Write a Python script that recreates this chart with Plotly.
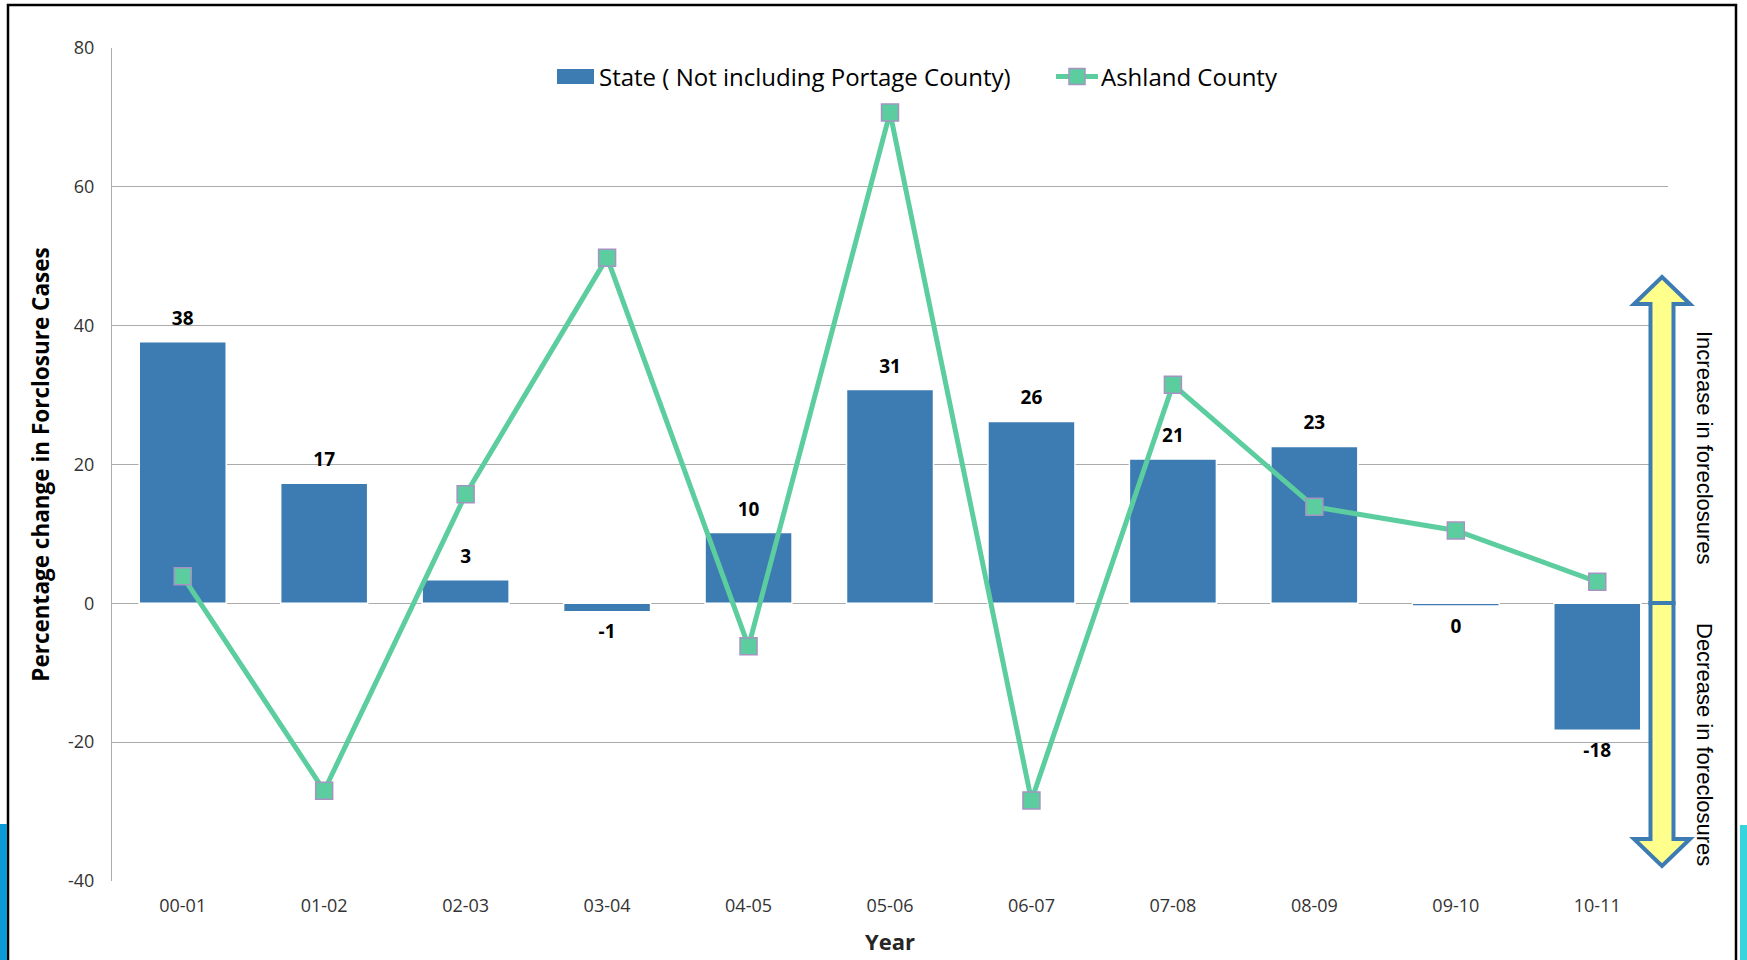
import plotly.graph_objects as go

years = ["00-01", "01-02", "02-03", "03-04", "04-05", "05-06", "06-07", "07-08", "08-09", "09-10", "10-11"]
state_vals = [37.7, 17.3, 3.4, -1.2, 10.2, 30.8, 26.2, 20.8, 22.6, -0.4, -18.3]
state_labels = ["38", "17", "3", "-1", "10", "31", "26", "21", "23", "0", "-18"]
ashland_vals = [3.9, -27.0, 15.7, 49.8, -6.2, 70.7, -28.4, 31.5, 13.9, 10.5, 3.1]
y_ticks = [-40, -20, 0, 20, 40, 60, 80]
series_names = ["State ( Not including Portage County)", "Ashland County"]

W, H = 1747, 960
L, R, T, B = 112, 1668, 48, 881

BAR_COLOR = "#3D7BB3"
LINE_COLOR = "#5CCD9E"
MARKER_EDGE = "#A593C4"


def px(x):
    return (x - L) / (R - L)


def py(y):
    return (B - y) / (B - T)


FONT = "'Open Sans', sans-serif"

fig = go.Figure()
fig.add_trace(go.Bar(
    x=years, y=state_vals, name=series_names[0],
    marker=dict(color=BAR_COLOR, line=dict(color="white", width=1.5)),
    width=0.615,
    showlegend=False, hoverinfo="skip",
))
# data labels for the bars
fig.add_trace(go.Scatter(
    x=years, y=state_vals, mode="markers+text",
    text=state_labels,
    textposition=["top center" if v >= 0 else "bottom center" for v in state_vals],
    marker=dict(size=18, color="rgba(0,0,0,0)"),
    textfont=dict(family=FONT, size=19, color="black", weight="bold"),
    cliponaxis=False, showlegend=False, hoverinfo="skip",
))
fig.add_trace(go.Scatter(
    x=years, y=ashland_vals, name=series_names[1], mode="lines+markers",
    line=dict(color=LINE_COLOR, width=5),
    marker=dict(symbol="square", size=17, color=LINE_COLOR,
                line=dict(color=MARKER_EDGE, width=1.5)),
    showlegend=False,
))

shapes = []
# outer frame
shapes.append(dict(type="rect", xref="paper", yref="paper",
                   x0=px(8), x1=px(1736), y0=py(5), y1=py(975),
                   line=dict(color="black", width=2.5), fillcolor="rgba(0,0,0,0)", layer="below"))
# corner stripes
shapes.append(dict(type="rect", xref="paper", yref="paper",
                   x0=px(-2), x1=px(7), y0=py(824), y1=py(962),
                   line=dict(width=0), fillcolor="#0A9BD6"))
shapes.append(dict(type="rect", xref="paper", yref="paper",
                   x0=px(1740), x1=px(1749), y0=py(825), y1=py(962),
                   line=dict(width=0), fillcolor="#38D4DE"))

# manual legend
shapes.append(dict(type="rect", xref="paper", yref="paper",
                   x0=px(557), x1=px(594), y0=py(69), y1=py(84),
                   line=dict(width=0), fillcolor=BAR_COLOR))
shapes.append(dict(type="line", xref="paper", yref="paper",
                   x0=px(1056), x1=px(1098), y0=py(76.5), y1=py(76.5),
                   line=dict(color=LINE_COLOR, width=5)))
shapes.append(dict(type="rect", xref="paper", yref="paper",
                   x0=px(1069), x1=px(1085), y0=py(68.5), y1=py(84.5),
                   line=dict(color=MARKER_EDGE, width=1.5), fillcolor=LINE_COLOR))

# double arrow
cx = 1662
hw, sw = 28, 11.5
top, bot = 277, 866
hb_top, hb_bot = 304, 839
pts = [(cx, top), (cx + hw, hb_top), (cx + sw, hb_top), (cx + sw, hb_bot), (cx + hw, hb_bot),
       (cx, bot), (cx - hw, hb_bot), (cx - sw, hb_bot), (cx - sw, hb_top), (cx - hw, hb_top)]
path = "M " + " L ".join(f"{px(a):.5f},{py(b):.5f}" for a, b in pts) + " Z"
shapes.append(dict(type="path", xref="paper", yref="paper", path=path,
                   fillcolor="#FFFF8C", line=dict(color=BAR_COLOR, width=4)))
shapes.append(dict(type="line", xref="paper", yref="paper",
                   x0=px(cx - sw - 2), x1=px(cx + sw + 2), y0=py(603), y1=py(603),
                   line=dict(color=BAR_COLOR, width=4)))

annotations = [
    dict(text=series_names[0], xref="paper", yref="paper",
         x=px(597), y=py(76), xanchor="left", yanchor="middle", showarrow=False,
         font=dict(family=FONT, size=24, color="black")),
    dict(text=series_names[1], xref="paper", yref="paper",
         x=px(1099), y=py(76), xanchor="left", yanchor="middle", showarrow=False,
         font=dict(family=FONT, size=24, color="black")),
    dict(text="Increase in foreclosures", xref="paper", yref="paper",
         x=px(1705), y=py(448), xanchor="center", yanchor="middle", showarrow=False, textangle=90,
         font=dict(family="Liberation Sans, Arial", size=22, color="black")),
    dict(text="Decrease in foreclosures", xref="paper", yref="paper",
         x=px(1705), y=py(744), xanchor="center", yanchor="middle", showarrow=False, textangle=90,
         font=dict(family="Liberation Sans, Arial", size=22, color="black")),
]

fig.update_layout(
    width=W, height=H,
    margin=dict(l=L, r=W - R, t=T, b=H - B, autoexpand=False),
    paper_bgcolor="white", plot_bgcolor="white",
    font=dict(family=FONT, color="#262626"),
    showlegend=False,
    shapes=shapes,
    annotations=annotations,
)
fig.update_xaxes(
    type="category", automargin=False, range=[-0.5, len(years) - 0.5],
    showgrid=False, showline=False, ticks="",
    ticklabelstandoff=12,
    tickfont=dict(family=FONT, size=18, color="#333333"),
    title=dict(text="<b>Year</b>", font=dict(family=FONT, size=22, color="#262626"), standoff=18),
)
fig.update_yaxes(
    automargin=False,
    range=[-40, 80], tickvals=y_ticks, ticktext=[str(v) for v in y_ticks],
    showgrid=True, gridcolor="#ABABAB", gridwidth=1,
    zeroline=False, showline=True, linecolor="#ABABAB", linewidth=1,
    ticks="", ticklabelstandoff=13,
    tickfont=dict(family=FONT, size=18, color="#333333"),
    title=dict(text="<b>Percentage change in Forclosure Cases</b>",
               font=dict(family=FONT, size=22.5, color="black"), standoff=12),
)

fig.write_html(
    "out.html",
    config={"displayModeBar": False},
    post_script="document.body.style.margin='0';document.body.style.overflow='hidden';"
                "document.documentElement.style.overflow='hidden';",
)
